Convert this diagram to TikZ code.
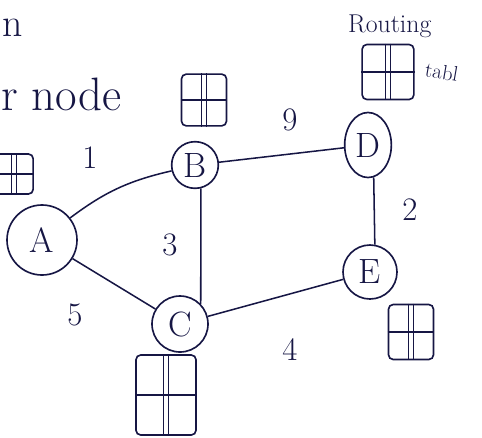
\documentclass[tikz,border=0pt]{standalone}
\usepackage{tikz}
\usetikzlibrary{arrows}
\usetikzlibrary{shapes.geometric}
\definecolor{ink}{RGB}{22,22,68}

\begin{document}
\begin{tikzpicture}[x=0.03cm, y=-0.03cm]

\tikzstyle{router}=[draw=ink, line width=1.4pt, circle, inner sep=0pt, text=ink, font=\fontsize{30}{32}\selectfont]
\tikzstyle{rtable}=[draw=ink, line width=1.4pt, rounded corners=4pt, inner sep=0pt]
\tikzstyle{line}=[draw=ink, line width=1.3pt]
\tikzstyle{weight}=[text=ink, font=\fontsize{28}{30}\selectfont]
\tikzstyle{scribble}=[text=ink, inner sep=0pt, anchor=base west]

\useasboundingbox (0,0) rectangle (482,437);

% routers
\node[router, minimum size=2.1cm] (A) at (42,240) {A};
\node[router, minimum size=1.4cm] (B) at (195,165) {B};
\node[router, ellipse, minimum width=1.4cm, minimum height=1.95cm] (D) at (368,145) {D};
\node[router, minimum size=1.62cm] (E) at (370,272) {E};
\node[router, minimum size=1.68cm] (C) at (180,324) {C};

% routing tables
\node[rtable, minimum width=1.15cm, minimum height=1.2cm] (tA) at (14,174) {};
\node[rtable, minimum width=1.35cm, minimum height=1.55cm] (tB) at (204,100) {};
\node[rtable, minimum width=1.55cm, minimum height=1.65cm] (tD) at (388,72) {};
\node[rtable, minimum width=1.35cm, minimum height=1.65cm] (tE) at (411,332) {};
\node[rtable, minimum width=1.8cm, minimum height=2.4cm] (tC) at (166,395) {};

\foreach \t in {tA,tB,tD,tE,tC} {
  \draw[ink, line width=1.2pt] (\t.west) -- (\t.east);
  \draw[ink, line width=1.2pt] ([xshift=-2pt]\t.north) -- ([xshift=-2pt]\t.south);
  \draw[ink, line width=1.2pt] ([xshift=2pt]\t.north) -- ([xshift=2pt]\t.south);
}

% links
\path[line] (A) to[bend left=12] (B);
\path[line] (A) -- (C);
\path[line] (B.-76) -- (C.44);
\path[line] (B) -- (D);
\path[line] (D.-80) -- (E.80);
\path[line] (C) -- (E);

% costs
\node[weight] (w1) at (90,158) {1};
\node[weight] (w9) at (290,120) {9};
\node[weight] (w2) at (410,210) {2};
\node[weight] (w3) at (170,245) {3};
\node[weight] (w5) at (75,315) {5};
\node[weight] (w4) at (290,350) {4};

% handwriting round the edges
\node[scribble, font=\fontsize{34}{36}\selectfont] (heading) at (2,36) {n};
\node[scribble, font=\fontsize{40}{42}\selectfont] (caption) at (1,110) {r node};
\node[scribble, font=\fontsize{22}{24}\selectfont] (routing) at (348,32) {Routing};
\node[scribble, font=\fontsize{18}{20}\selectfont, rotate=-10] (table) at (424,76) {tabl};

\end{tikzpicture}
\end{document}
